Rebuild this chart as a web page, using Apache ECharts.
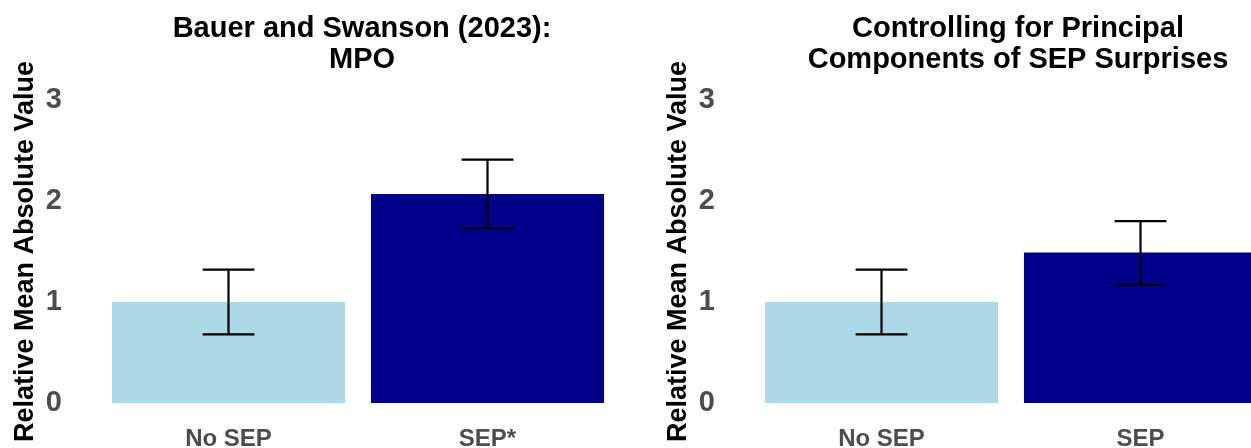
<!DOCTYPE html>
<html>
<head>
<meta charset="utf-8">
<script src="https://cdn.jsdelivr.net/npm/echarts@6/dist/echarts.min.js"></script>
<style>
  html, body { margin: 0; padding: 0; background: #ffffff; }
  #chart { width: 1251px; height: 448px; }
</style>
</head>
<body>
<div id="chart"></div>
<script>
// Panel titles
const panelTitles = [
  'Bauer and Swanson (2023):\nMPO',
  'Controlling for Principal\nComponents of SEP Surprises'
];
// Categories per panel
const categoriesLeft = ['No SEP', 'SEP*'];
const categoriesRight = ['No SEP', 'SEP'];
// Relative mean absolute values
const valuesLeft = [1.00, 2.07];
const valuesRight = [1.00, 1.49];
// Error bar bounds [low, high]
const errorsLeft = [[0.68, 1.32], [1.73, 2.41]];
const errorsRight = [[0.68, 1.32], [1.17, 1.80]];
// Y tick values
const yTicks = [0, 1, 2, 3];

const axisName = 'Relative Mean Absolute Value';
const barColors = ['#ADD8E6', '#00008B'];
const FONT = '"Liberation Sans", Arial, Helvetica, sans-serif';

const chart = echarts.init(document.getElementById('chart'), null, { renderer: 'canvas' });

// Error bar: vertical whisker with caps spanning 20% of the category band
function errorItem(params, api) {
  const x = api.value(0);
  const lo = api.coord([x, api.value(1)]);
  const hi = api.coord([x, api.value(2)]);
  const band = api.size([1, 0])[0];
  const half = band * 0.1;
  const style = { stroke: '#000000', lineWidth: 2.2 };
  return {
    type: 'group',
    children: [
      { type: 'line', shape: { x1: hi[0], y1: hi[1], x2: lo[0], y2: lo[1] }, style },
      { type: 'line', shape: { x1: hi[0] - half, y1: hi[1], x2: hi[0] + half, y2: hi[1] }, style },
      { type: 'line', shape: { x1: lo[0] - half, y1: lo[1], x2: lo[0] + half, y2: lo[1] }, style }
    ]
  };
}

function makeX(idx, cats) {
  return {
    type: 'category', gridIndex: idx, data: cats,
    axisLine: { show: false }, axisTick: { show: false }, splitLine: { show: false },
    axisLabel: { color: '#4D4D4D', fontSize: 24, fontWeight: 'bold', fontFamily: FONT, margin: 24 }
  };
}
function makeY(idx) {
  return {
    type: 'value', gridIndex: idx, min: yTicks[0], max: yTicks[yTicks.length - 1], interval: 1,
    axisLine: { show: false }, axisTick: { show: false }, splitLine: { show: false },
    axisLabel: { color: '#4D4D4D', fontSize: 29, fontWeight: 'bold', fontFamily: FONT, margin: 37 },
    name: axisName, nameLocation: 'middle', nameGap: 60, nameRotate: 90,
    nameTextStyle: { color: '#000000', fontSize: 27, fontWeight: 'bold', fontFamily: FONT }
  };
}
function barData(vals) {
  return vals.map((v, i) => ({ value: v, itemStyle: { color: barColors[i] } }));
}
function errData(errs) {
  return errs.map((e, i) => [i, e[0], e[1]]);
}

const titleStyle = { fontSize: 29, fontWeight: 'bold', color: '#000', fontFamily: FONT, lineHeight: 31, align: 'center' };

const option = {
  backgroundColor: '#ffffff',
  animation: false,
  title: [
    { text: panelTitles[0], left: 357, top: 8, textAlign: 'center', textStyle: titleStyle },
    { text: panelTitles[1], left: 1013, top: 8, textAlign: 'center', textStyle: titleStyle }
  ],
  grid: [
    { left: 99, width: 518, top: 100, height: 303, outerBoundsMode: 'none' },
    { left: 752, width: 518, top: 100, height: 303, outerBoundsMode: 'none' }
  ],
  xAxis: [makeX(0, categoriesLeft), makeX(1, categoriesRight)],
  yAxis: [makeY(0), makeY(1)],
  series: [
    { type: 'bar', xAxisIndex: 0, yAxisIndex: 0, barWidth: '90%', data: barData(valuesLeft) },
    { type: 'custom', xAxisIndex: 0, yAxisIndex: 0, renderItem: errorItem, data: errData(errorsLeft), z: 5 },
    { type: 'bar', xAxisIndex: 1, yAxisIndex: 1, barWidth: '90%', data: barData(valuesRight) },
    { type: 'custom', xAxisIndex: 1, yAxisIndex: 1, renderItem: errorItem, data: errData(errorsRight), z: 5 }
  ]
};
chart.setOption(option);
</script>
</body>
</html>
